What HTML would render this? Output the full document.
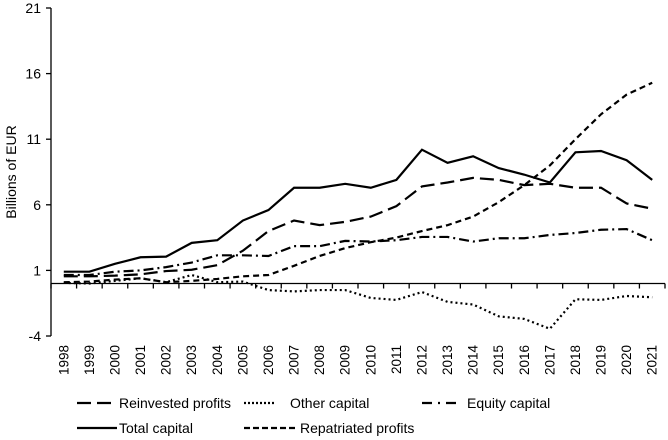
<!DOCTYPE html>
<html><head><meta charset="utf-8"><style>
body{margin:0;background:#fff;}
svg{display:block;font-family:"Liberation Sans",Arial,sans-serif;}
</style></head><body>
<svg id="chart" width="668" height="440"></svg>
<script>
const years=["1998","1999","2000","2001","2002","2003","2004","2005","2006","2007","2008","2009","2010","2011","2012","2013","2014","2015","2016","2017","2018","2019","2020","2021"];
const reinvested=[0.55,0.55,0.6,0.7,0.95,1.05,1.4,2.5,4.0,4.8,4.45,4.7,5.1,5.9,7.4,7.7,8.05,7.9,7.5,7.6,7.3,7.3,6.1,5.7];
const otherCap=[0.05,0,0.2,0.4,0.1,0.65,0.1,0.15,-0.5,-0.6,-0.5,-0.5,-1.1,-1.25,-0.65,-1.4,-1.6,-2.5,-2.7,-3.45,-1.2,-1.25,-0.95,-1.05];
const equity=[0.65,0.65,0.9,1.0,1.25,1.6,2.15,2.15,2.1,2.85,2.85,3.25,3.2,3.3,3.55,3.55,3.2,3.45,3.45,3.7,3.85,4.1,4.15,3.3];
const total=[0.9,0.9,1.5,2.0,2.05,3.1,3.3,4.8,5.6,7.3,7.3,7.6,7.3,7.9,10.2,9.2,9.7,8.8,8.3,7.7,10.0,10.1,9.4,7.9];
const repatriated=[0.1,0.15,0.3,0.4,0.1,0.2,0.35,0.55,0.65,1.35,2.1,2.7,3.15,3.5,4.0,4.45,5.1,6.2,7.5,9.0,11.0,12.9,14.4,15.3];
const yTicks=[-4,1,6,11,16,21];

const NS="http://www.w3.org/2000/svg";
const svg=document.getElementById('chart');
const X0=51,X1=665,YTOP=8,YBOT=336,VMIN=-4,VMAX=21;
const band=(X1-X0)/years.length;
const xs=i=>X0+band*(i+0.5);
const ys=v=>YBOT-(v-VMIN)/(VMAX-VMIN)*(YBOT-YTOP);
function mk(t,a){const e=document.createElementNS(NS,t);for(const k in a)e.setAttribute(k,a[k]);svg.appendChild(e);return e;}

let ax=mk('line',{x1:X0,y1:YTOP,x2:X0,y2:YBOT,stroke:'#000','stroke-width':1.3});


yTicks.forEach(v=>{
  const t=mk('line',{x1:X0-5,y1:ys(v),x2:X0,y2:ys(v),stroke:'#000','stroke-width':1.3});
  
  
  const l=mk('text',{x:X0-10,y:ys(v)+5,'text-anchor':'end','font-size':14});
  l.textContent=v;
  
  
});
const y0=ys(0);
let xa=mk('line',{x1:X0,y1:y0,x2:X1,y2:y0,stroke:'#000','stroke-width':1.3});


for(let i=0;i<=years.length;i++){
  const t=mk('line',{x1:X0+band*i,y1:y0,x2:X0+band*i,y2:y0+5,stroke:'#000','stroke-width':1.3});
  
  
}
years.forEach((yr,i)=>{
  const l=mk('text',{x:0,y:0,'text-anchor':'end','font-size':13.5,transform:`translate(${xs(i)+4.5},${YBOT+9}) rotate(-90)`});
  l.textContent=yr;
  
  
});
const yl=mk('text',{x:0,y:0,'text-anchor':'middle','font-size':14,transform:'translate(16,172) rotate(-90)'});
yl.textContent='Billions of EUR';



const series=[
 {d:reinvested,dash:'14,6',name:'reinvested-profits-line'},
 {d:otherCap,dash:'2,3',name:'other-capital-line'},
 {d:equity,dash:'10,4,2,4',name:'equity-capital-line'},
 {d:total,dash:'',name:'total-capital-line'},
 {d:repatriated,dash:'6,4',name:'repatriated-profits-line'}
];
series.forEach(s=>{
  const p=mk('polyline',{points:s.d.map((v,i)=>xs(i)+','+ys(v)).join(' '),fill:'none',stroke:'#000','stroke-width':2.2,'stroke-dasharray':s.dash});
  
  
});
const leg=[
 {x1:77,x2:117,tx:119,y:403,dash:'14,6',t:'Reinvested profits'},
 {x1:244,x2:276,tx:290,y:403,dash:'2,2',t:'Other capital'},
 {x1:422,x2:456,tx:467,y:403,dash:'10,6,2,6',t:'Equity capital'},
 {x1:77,x2:117,tx:119,y:428,dash:'',t:'Total capital'},
 {x1:244,x2:298,tx:300,y:428,dash:'6,3',t:'Repatriated profits'}
];
leg.forEach(l=>{
  const ln=mk('line',{x1:l.x1,y1:l.y,x2:l.x2,y2:l.y,stroke:'#000','stroke-width':2.2,'stroke-dasharray':l.dash});
  
  
  const tx=mk('text',{x:l.tx,y:l.y+5,'font-size':14});
  tx.textContent=l.t;
  
  
});
</script>
</body></html>
